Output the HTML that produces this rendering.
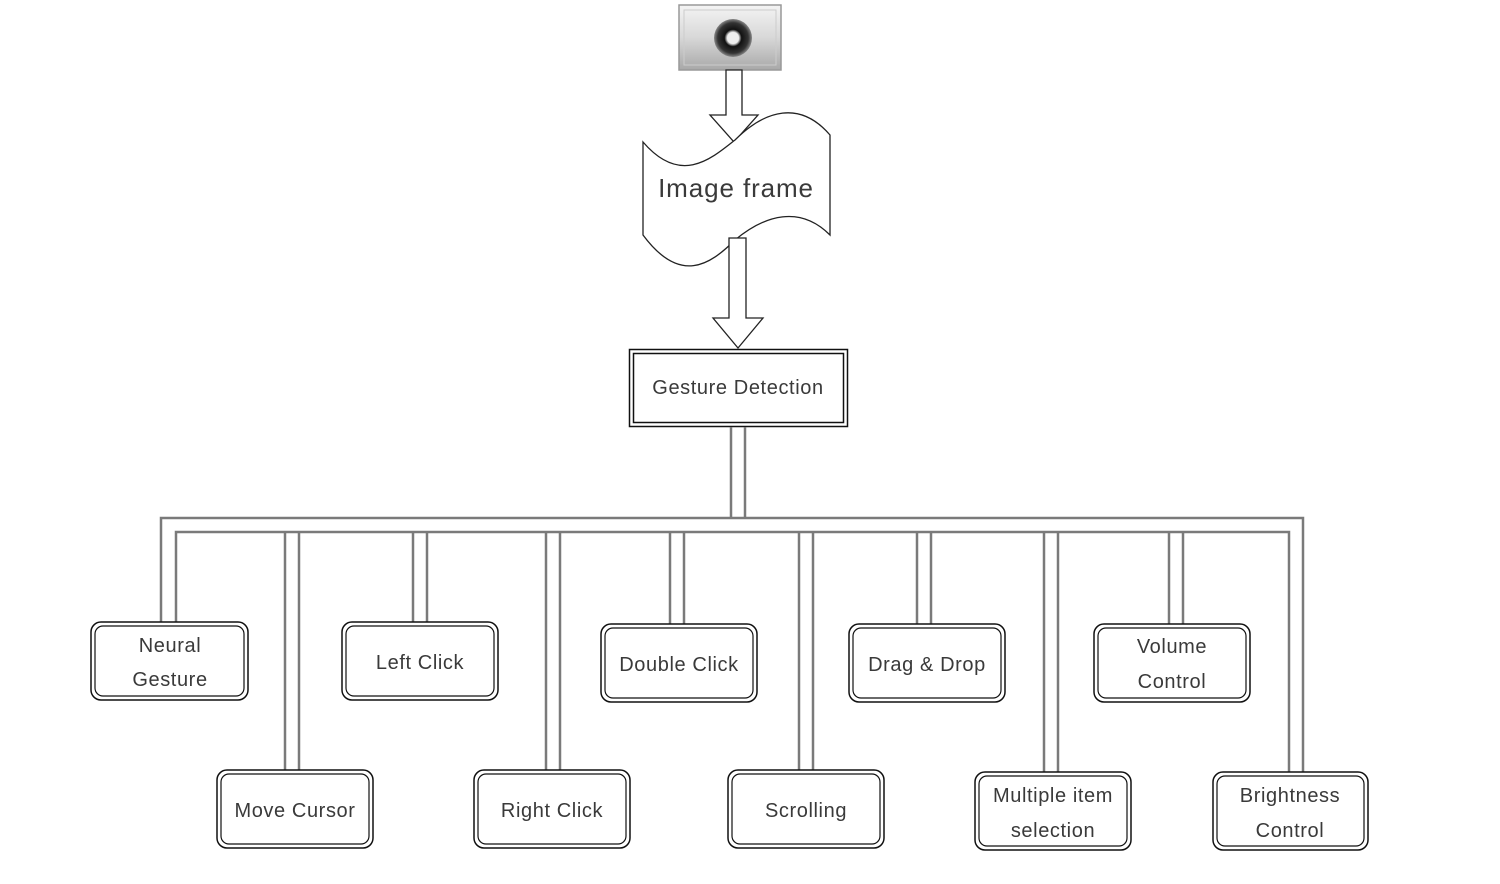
<!DOCTYPE html>
<html><head><meta charset="utf-8"><style>
html,body{margin:0;padding:0;background:#fff;}
svg{display:block;}
text{font-family:"Liberation Sans",sans-serif;fill:#3a3a3a;text-anchor:middle;letter-spacing:0.6px;}
</style></head><body>
<svg width="1500" height="884" viewBox="0 0 1500 884" xmlns="http://www.w3.org/2000/svg">
<defs>
<linearGradient id="cg" x1="0" y1="0" x2="0" y2="1">
<stop offset="0" stop-color="#f4f4f4"/><stop offset="0.5" stop-color="#d8d8d8"/><stop offset="1" stop-color="#a8a8a8"/>
</linearGradient>
<radialGradient id="lens"><stop offset="0.3" stop-color="#eee"/><stop offset="0.45" stop-color="#111"/><stop offset="0.8" stop-color="#333"/><stop offset="1" stop-color="#888"/></radialGradient>
</defs>
<rect x="679" y="5" width="102" height="65" fill="url(#cg)" stroke="#999" stroke-width="1.5"/>
<rect x="684" y="10" width="92" height="55" fill="none" stroke="#ccc" stroke-width="1"/>
<circle cx="733" cy="38" r="19" fill="url(#lens)"/>
<path d="M726 70 L742 70 L742 115 L758 115 L734 142 L710 115 L726 115 Z" fill="#fff" stroke="#222" stroke-width="1.3"/>
<path d="M643 142 C680 185,710 160,735 140 C765 110,800 100,830 135 L830 235 C800 205,765 215,735 240 C710 265,680 285,643 235 Z" fill="#fff" stroke="#222" stroke-width="1.3"/>
<text x="736" y="197" font-size="26" style="letter-spacing:0.9px">Image frame</text>
<path d="M729 238 L746 238 L746 318 L763 318 L738 348 L713 318 L729 318 Z" fill="#fff" stroke="#222" stroke-width="1.3"/>
<rect x="629.5" y="349.5" width="218" height="77" fill="#fff" stroke="#111" stroke-width="1.5"/>
<rect x="633.5" y="353.5" width="210" height="69" fill="none" stroke="#111" stroke-width="1.5"/>
<text x="738" y="394" font-size="20">Gesture Detection</text>
<g fill="none" stroke="#7a7a7a" stroke-width="2.5">
<path d="M731 427 V518 M745 427 V518"/>
<path d="M161 622 V518 H1303 V772"/>
<path d="M176 622 V532 H1289 V772"/>
<path d="M285 532 V770 M299 532 V770"/>
<path d="M413 532 V622 M427 532 V622"/>
<path d="M546 532 V770 M560 532 V770"/>
<path d="M670 532 V624 M684 532 V624"/>
<path d="M799 532 V770 M813 532 V770"/>
<path d="M917 532 V624 M931 532 V624"/>
<path d="M1044 532 V772 M1058 532 V772"/>
<path d="M1169 532 V624 M1183 532 V624"/>
</g>
<g fill="#fff" stroke="#111" stroke-width="1.5">
<rect x="91" y="622" width="157" height="78" rx="10"/>
<rect x="342" y="622" width="156" height="78" rx="10"/>
<rect x="601" y="624" width="156" height="78" rx="10"/>
<rect x="849" y="624" width="156" height="78" rx="10"/>
<rect x="1094" y="624" width="156" height="78" rx="10"/>
<rect x="217" y="770" width="156" height="78" rx="10"/>
<rect x="474" y="770" width="156" height="78" rx="10"/>
<rect x="728" y="770" width="156" height="78" rx="10"/>
<rect x="975" y="772" width="156" height="78" rx="10"/>
<rect x="1213" y="772" width="155" height="78" rx="10"/>
</g>
<g fill="none" stroke="#111" stroke-width="1.2">
<rect x="95" y="626" width="149" height="70" rx="8"/>
<rect x="346" y="626" width="148" height="70" rx="8"/>
<rect x="605" y="628" width="148" height="70" rx="8"/>
<rect x="853" y="628" width="148" height="70" rx="8"/>
<rect x="1098" y="628" width="148" height="70" rx="8"/>
<rect x="221" y="774" width="148" height="70" rx="8"/>
<rect x="478" y="774" width="148" height="70" rx="8"/>
<rect x="732" y="774" width="148" height="70" rx="8"/>
<rect x="979" y="776" width="148" height="70" rx="8"/>
<rect x="1217" y="776" width="147" height="70" rx="8"/>
</g>
<g font-size="20">
<text x="170" y="652">Neural</text><text x="170" y="686">Gesture</text>
<text x="420" y="669">Left Click</text>
<text x="679" y="671">Double Click</text>
<text x="927" y="671">Drag &amp; Drop</text>
<text x="1172" y="653">Volume</text><text x="1172" y="688">Control</text>
<text x="295" y="817">Move Cursor</text>
<text x="552" y="817">Right Click</text>
<text x="806" y="817">Scrolling</text>
<text x="1053" y="802">Multiple item</text><text x="1053" y="837">selection</text>
<text x="1290" y="802">Brightness</text><text x="1290" y="837">Control</text>
</g>
</svg>
</body></html>
